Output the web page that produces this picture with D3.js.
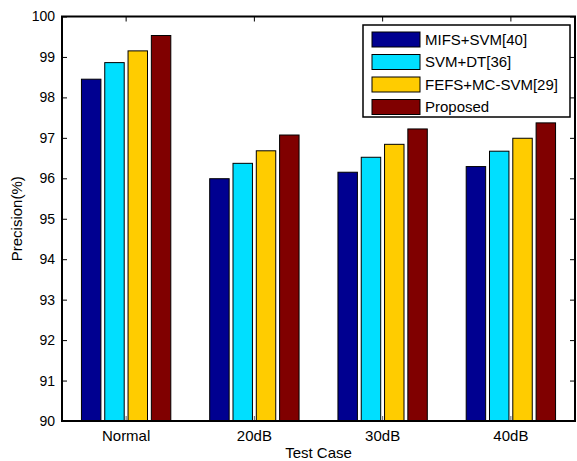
<!DOCTYPE html>
<html>
<head>
<meta charset="utf-8">
<script src="https://cdn.jsdelivr.net/npm/d3@7"></script>
<style>
  body { margin: 0; background: #fff; }
  text { font-family: "Liberation Sans", Arial, sans-serif; fill: #000; }
</style>
</head>
<body>
<div id="chart"></div>
<script>
(function () {
    'use strict';

    // test cases along the x axis
    var categories = ['Normal', '20dB', '30dB', '40dB'];
    var seriesNames = ['MIFS+SVM[40]', 'SVM+DT[36]', 'FEFS+MC-SVM[29]', 'Proposed'];
    var seriesColors = ['#000090', '#00DFFF', '#FFCC00', '#800000'];

    // precision values, one array per method
    var mifsSvm = [98.45, 95.99, 96.15, 96.29];
    var svmDt = [98.86, 96.37, 96.52, 96.67];
    var fefsMcSvm = [99.15, 96.68, 96.84, 96.99];
    var proposed = [99.53, 97.07, 97.22, 97.37];

    var yTicks = [90, 91, 92, 93, 94, 95, 96, 97, 98, 99, 100];

    var series = [mifsSvm, svmDt, fefsMcSvm, proposed];

    var W = 577, H = 461;
    var left = 62, right = 575, top = 16.5, bottom = 421;

    var svg = d3.select('#chart').append('svg')
        .attr('width', W)
        .attr('height', H);

    var x = d3.scaleBand()
        .domain(categories)
        .range([left, right])
        .padding(0);

    var y = d3.scaleLinear()
        .domain([90, 100])
        .range([bottom, top]);

    // bars inside each group
    var groupW = 93.2;
    var xInner = d3.scaleBand()
        .domain(d3.range(series.length))
        .range([-groupW / 2, groupW / 2])
        .paddingInner(0.165)
        .paddingOuter(0.0825);

    // left axis (inward ticks)
    var yAxis = svg.append('g')
        .attr('transform', 'translate(' + left + ',0)')
        .call(d3.axisLeft(y).tickValues(yTicks).tickSize(-5).tickPadding(7).tickFormat(d3.format('d')));
    yAxis.select('.domain').remove();
    yAxis.selectAll('text').style('font-size', '14px');
    yAxis.selectAll('line').attr('stroke', '#000');
    yAxis.attr('font-family', null);

    // right axis ticks, no labels
    var yAxisR = svg.append('g')
        .attr('transform', 'translate(' + right + ',0)')
        .call(d3.axisRight(y).tickValues(yTicks).tickSize(-5).tickFormat(''));
    yAxisR.select('.domain').remove();

    // bottom axis
    var xAxis = svg.append('g')
        .attr('transform', 'translate(0,' + bottom + ')')
        .call(d3.axisBottom(x).tickSize(-5).tickPadding(9));
    xAxis.select('.domain').remove();
    xAxis.selectAll('text').style('font-size', '15px');
    xAxis.attr('font-family', null);
    xAxis.selectAll('line').attr('stroke', '#666');

    // top axis ticks
    var xAxisT = svg.append('g')
        .attr('transform', 'translate(0,' + top + ')')
        .call(d3.axisTop(x).tickSize(-5).tickFormat(''));
    xAxisT.select('.domain').remove();

    // bars
    var groups = svg.append('g').selectAll('g')
        .data(categories)
        .enter().append('g')
        .attr('transform', function (d) { return 'translate(' + (x(d) + x.bandwidth() / 2) + ',0)'; });

    groups.selectAll('rect')
        .data(function (d, i) { return series.map(function (s, k) { return { k: k, v: s[i] }; }); })
        .enter().append('rect')
        .attr('x', function (d) { return xInner(d.k); })
        .attr('width', xInner.bandwidth())
        .attr('y', function (d) { return y(d.v); })
        .attr('height', function (d) { return bottom - y(d.v); })
        .style('fill', function (d) { return seriesColors[d.k]; })
        .style('stroke', '#000')
        .style('stroke-width', '1px');

    // frame
    svg.append('rect')
        .attr('x', left)
        .attr('y', top)
        .attr('width', right - left)
        .attr('height', bottom - top)
        .style('fill', 'none')
        .style('stroke', '#000')
        .style('stroke-width', '2px');

    // axis titles
    svg.append('text')
        .attr('x', (left + right) / 2)
        .attr('y', 458)
        .attr('text-anchor', 'middle')
        .style('font-size', '15px')
        .text('Test Case');

    svg.append('text')
        .attr('transform', 'translate(22,' + ((top + bottom) / 2) + ') rotate(-90)')
        .attr('text-anchor', 'middle')
        .style('font-size', '15px')
        .text('Precision(%)');

    // legend
    var lg = svg.append('g');
    lg.append('rect')
        .attr('x', 363)
        .attr('y', 25)
        .attr('width', 207)
        .attr('height', 92)
        .style('fill', '#fff')
        .style('stroke', '#000')
        .style('stroke-width', '1.5px');

    var rows = lg.selectAll('g.row')
        .data(seriesNames)
        .enter().append('g')
        .attr('class', 'row')
        .attr('transform', function (d, i) { return 'translate(0,' + (39.5 + i * 22.5) + ')'; });

    rows.append('rect')
        .attr('x', 372)
        .attr('y', -7.5)
        .attr('width', 48)
        .attr('height', 15)
        .style('fill', function (d, i) { return seriesColors[i]; })
        .style('stroke', '#000')
        .style('stroke-width', '1px');

    rows.append('text')
        .attr('x', 425)
        .attr('dy', '0.35em')
        .style('font-size', '15px')
        .text(function (d) { return d; });
}());
</script>
</body>
</html>
